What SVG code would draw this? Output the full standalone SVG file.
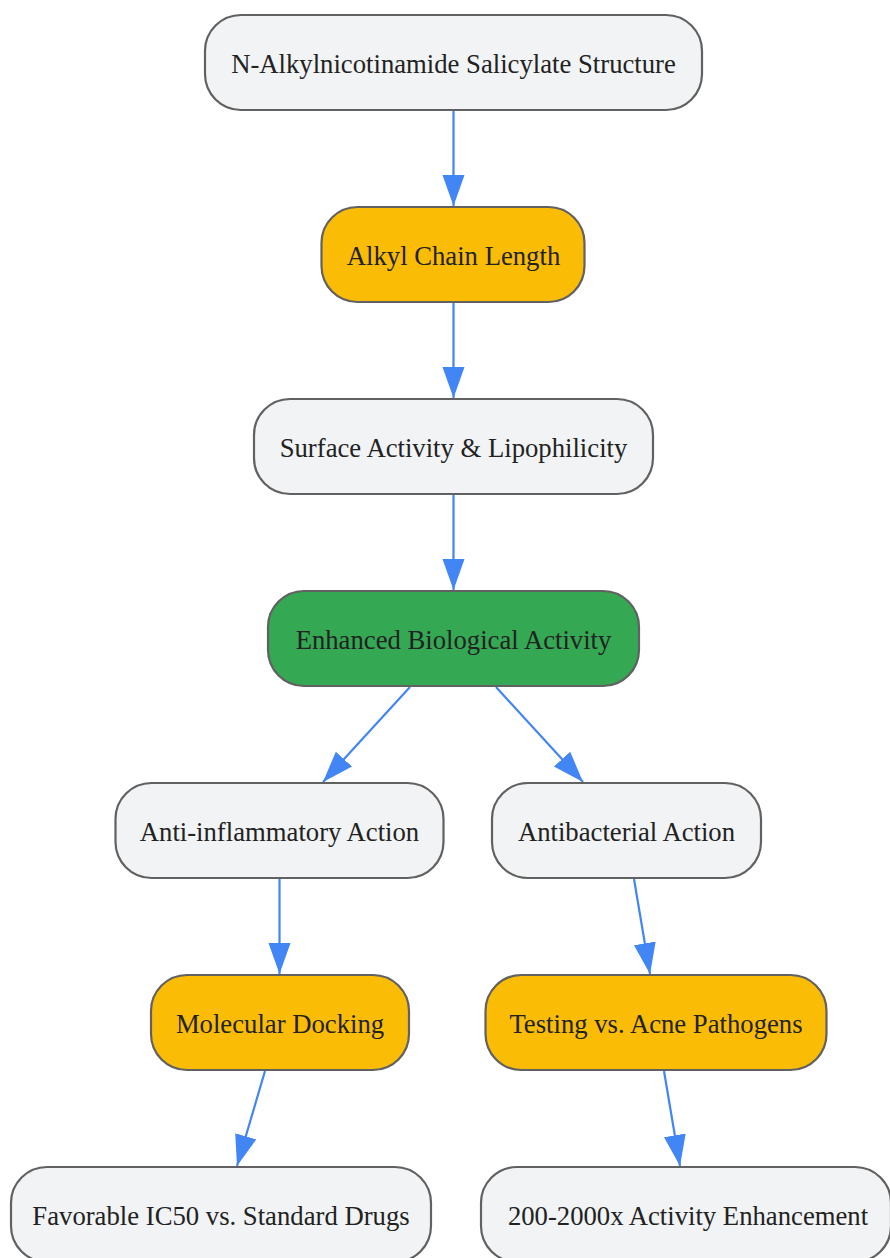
<svg xmlns="http://www.w3.org/2000/svg" width="890" height="1258" viewBox="0 0 890 1258">
<style>
.n rect{stroke:#616161;stroke-width:2.2}
.g rect{fill:#F1F3F4}
.y rect{fill:#FBBC05}
.gr rect{fill:#34A853}
text{font-family:"Liberation Serif","Times New Roman",serif;font-size:26.7px;fill:#222;text-anchor:middle;dominant-baseline:central}
.e path{stroke:#4285F4;stroke-width:2.2;fill:none;marker-end:url(#ah)}
</style>
<defs>
<marker id="ah" markerUnits="userSpaceOnUse" markerWidth="32" markerHeight="24" refX="31" refY="11" orient="auto" viewBox="0 0 32 22">
<path d="M0,0 L31,11 L0,22 z" fill="#4285F4"/>
</marker>
</defs>
<rect width="890" height="1258" fill="#fff"/>
<g id="edges" class="e">
<path d="M453.5,111 L453.5,206"/>
<path d="M453.5,303 L453.5,398"/>
<path d="M453.5,495 L453.5,590"/>
<path d="M410,687 L323,782"/>
<path d="M496,687 L583,782"/>
<path d="M279.5,879 L279.5,974"/>
<path d="M634,879 L650,974"/>
<path d="M265,1071 L237,1166"/>
<path d="M664,1071 L680,1166"/>
</g>
<g id="n1" class="n g"><rect x="205" y="15" width="497" height="95" rx="36"/><text x="453.5" y="64">N-Alkylnicotinamide Salicylate Structure</text></g>
<g id="n2" class="n y"><rect x="321.5" y="207" width="263" height="95" rx="36"/><text x="453.5" y="256">Alkyl Chain Length</text></g>
<g id="n3" class="n g"><rect x="254" y="399" width="399" height="95" rx="36"/><text x="453.5" y="448">Surface Activity &amp; Lipophilicity</text></g>
<g id="n4" class="n gr"><rect x="268" y="591" width="371" height="95" rx="36"/><text x="453.5" y="640">Enhanced Biological Activity</text></g>
<g id="n5" class="n g"><rect x="115.5" y="783" width="328" height="95" rx="36"/><text x="279.5" y="832">Anti-inflammatory Action</text></g>
<g id="n6" class="n g"><rect x="492" y="783" width="269" height="95" rx="36"/><text x="626.5" y="832">Antibacterial Action</text></g>
<g id="n7" class="n y"><rect x="151" y="975" width="258" height="95" rx="36"/><text x="280" y="1024">Molecular Docking</text></g>
<g id="n8" class="n y"><rect x="485.5" y="975" width="341" height="95" rx="36"/><text x="656" y="1024">Testing vs. Acne Pathogens</text></g>
<g id="n9" class="n g"><rect x="11" y="1167" width="420" height="95" rx="36"/><text x="221" y="1216">Favorable IC50 vs. Standard Drugs</text></g>
<g id="n10" class="n g"><rect x="481" y="1167" width="410" height="95" rx="36"/><text x="688" y="1216">200-2000x Activity Enhancement</text></g>
</svg>
